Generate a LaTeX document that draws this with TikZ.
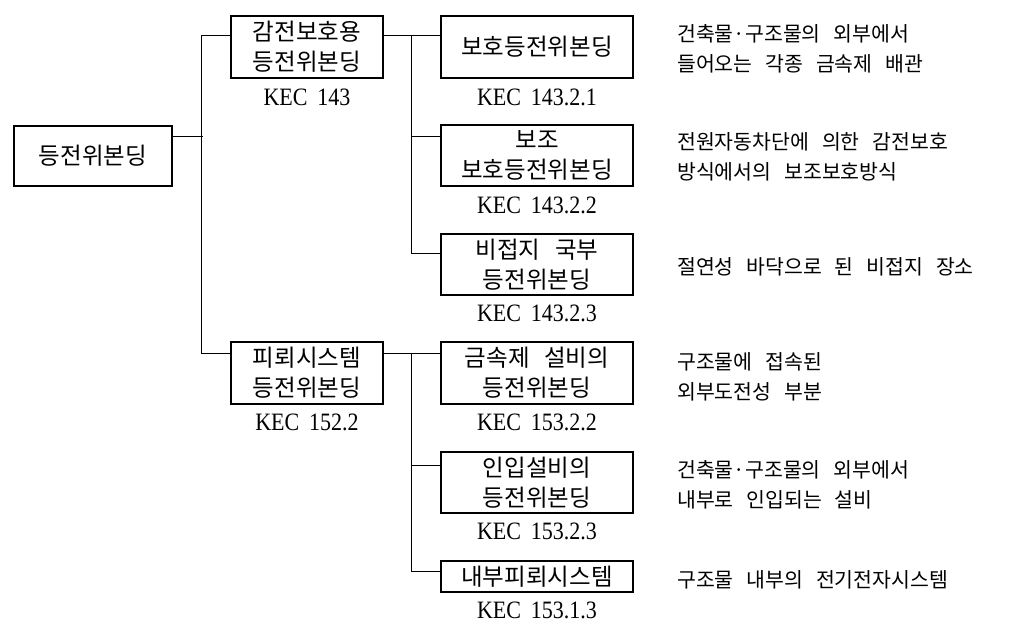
\documentclass[tikz,border=0pt]{standalone}
\usepackage{fontspec}
\newfontfamily\boxfont[WordSpace=2.8]{Noto Sans CJK KR}
\newfontfamily\descfont[WordSpace=2.8]{Noto Sans CJK KR}
\newfontfamily\codefont[FakeStretch=0.88,WordSpace=1.8]{Liberation Serif}

\begin{document}
\begin{tikzpicture}[x=1pt, y=-1pt,
    box/.style={
        draw,
        line width=1.1pt,
        inner sep=0pt,
        align=center,
        minimum width=192pt,
        minimum height=62pt,
        font=\boxfont\fontsize{23.5}{30}\selectfont},
    code/.style={inner sep=0pt, font=\codefont\fontsize{25}{28}\selectfont},
    desc/.style={inner sep=0pt, anchor=west, align=left,
        font=\descfont\fontsize{20.5}{29.5}\selectfont},
    wire/.style={line width=1pt}]

    \useasboundingbox (0,0) rectangle (1035,635);

    \node[box, minimum width=158pt, minimum height=60pt] (bond) at (93,156) {등전위본딩};

    \node[box, minimum width=152pt] (shock) at (307,47) {감전보호용\\등전위본딩};
    \node[box, minimum width=152pt] (light) at (307,373) {피뢰시스템\\등전위본딩};

    \node[box] (prot) at (537,47) {보호등전위본딩};
    \node[box, minimum height=61pt] (supp) at (537,155.5) {보조\\보호등전위본딩};
    \node[box, minimum height=61pt] (local) at (537,264.5) {비접지 국부\\등전위본딩};
    \node[box] (metal) at (537,373) {금속제 설비의\\등전위본딩};
    \node[box, minimum height=61pt] (inlet) at (537,482.5) {인입설비의\\등전위본딩};
    \node[box, minimum height=31pt] (inner) at (537,576.5) {내부피뢰시스템};

    \node[code] (cShock) at (307,97) {KEC 143};
    \node[code] (cLight) at (307,422) {KEC 152.2};
    \node[code] (cProt) at (537,97) {KEC 143.2.1};
    \node[code] (cSupp) at (537,205) {KEC 143.2.2};
    \node[code] (cLocal) at (537,313) {KEC 143.2.3};
    \node[code] (cMetal) at (537,422) {KEC 153.2.2};
    \node[code] (cInlet) at (537,531) {KEC 153.2.3};
    \node[code] (cInner) at (537,610) {KEC 153.1.3};

    \node[desc] (dProt) at (677,49) {건축물·구조물의 외부에서\\들어오는 각종 금속제 배관};
    \node[desc] (dSupp) at (677,157) {전원자동차단에 의한 감전보호\\방식에서의 보조보호방식};
    \node[desc] (dLocal) at (677,267) {절연성 바닥으로 된 비접지 장소};
    \node[desc] (dMetal) at (677,377) {구조물에 접속된\\외부도전성 부분};
    \node[desc] (dInlet) at (677,485) {건축물·구조물의 외부에서\\내부로 인입되는 설비};
    \node[desc] (dInner) at (677,580) {구조물 내부의 전기전자시스템};

    \draw[wire] ([yshift=20pt]bond.east) -- ++(30,0);
    \draw[wire] ([yshift=12pt]shock.west) -- ++(-29,0) |- ([yshift=20pt]light.west);

    \draw[wire] ([yshift=12pt]shock.east) -- ([yshift=12pt]prot.west);
    \draw[wire] ([yshift=12pt]prot.west) -- ++(-29,0) |- ([yshift=11.5pt]local.west);
    \draw[wire] ([yshift=19.5pt]supp.west) -- ++(-29,0);

    \draw[wire] ([yshift=20pt]light.east) -- ([yshift=20pt]metal.west);
    \draw[wire] ([yshift=20pt]metal.west) -- ++(-29,0) |- ([yshift=5.5pt]inner.west);
    \draw[wire] ([yshift=17.5pt]inlet.west) -- ++(-29,0);
\end{tikzpicture}
\end{document}
